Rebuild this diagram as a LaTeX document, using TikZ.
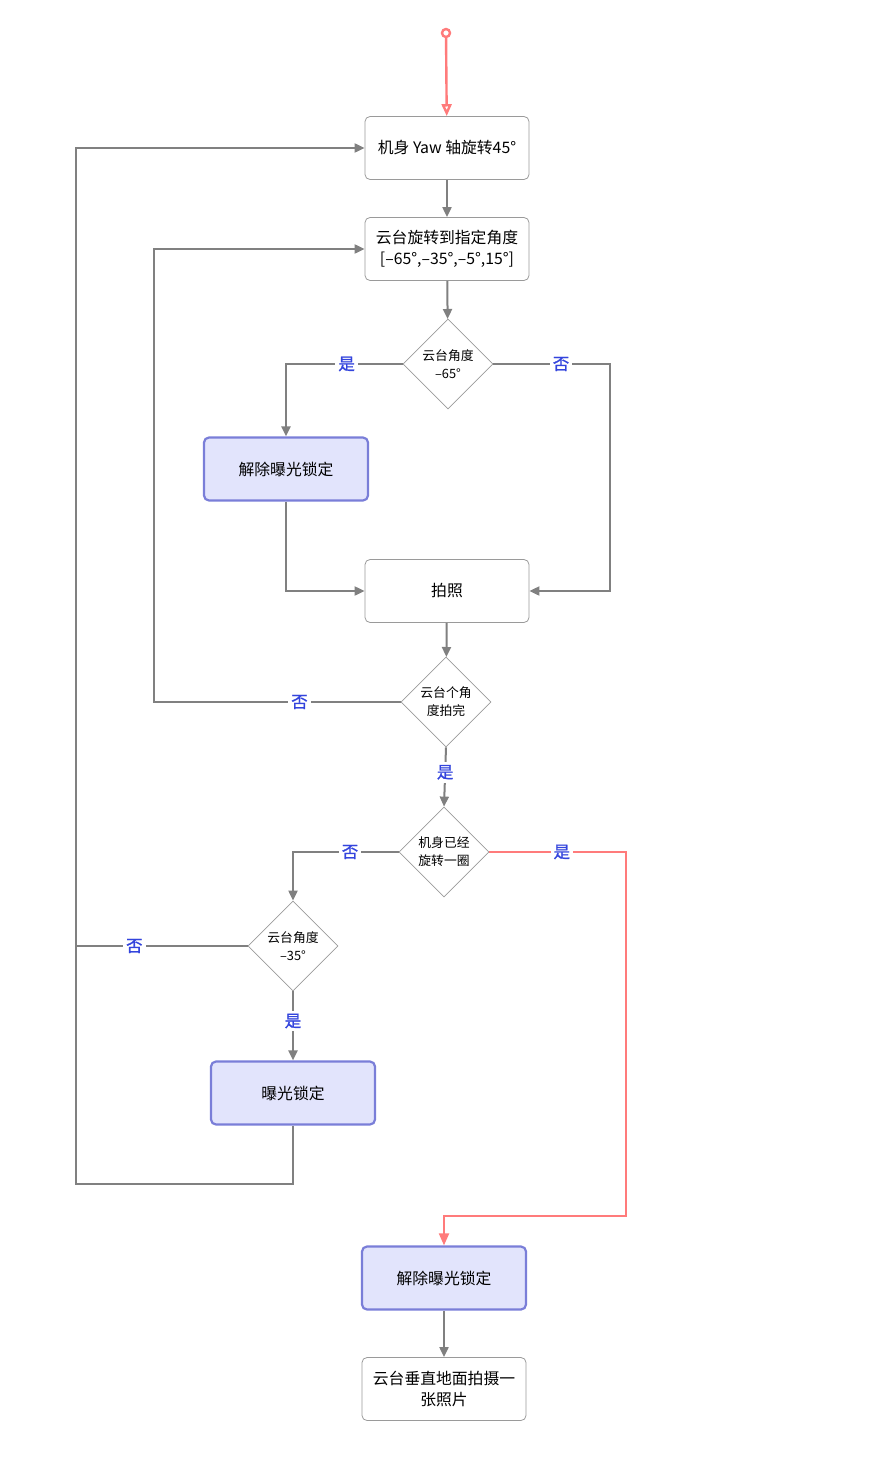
\documentclass[tikz,border=0pt]{standalone}
\usepackage{fontspec}
\setmainfont{Noto Sans CJK SC}
\newfontfamily\lblfont{Noto Sans CJK SC}[FakeBold=1.2]
\usetikzlibrary{positioning,shapes.geometric,arrows.meta}
\definecolor{linegray}{HTML}{808080}
\definecolor{boxgray}{HTML}{9A9A9A}
\definecolor{lockfill}{HTML}{E2E4FC}
\definecolor{lockdraw}{HTML}{7A7ED8}
\definecolor{lblblue}{HTML}{3344DD}
\definecolor{startred}{HTML}{FF7B7B}

\begin{document}
\begin{tikzpicture}[x=1pt,y=-1pt,->,>={Triangle[width=9pt,length=10pt]},
	box/.style={draw=boxgray,line width=0.8pt,rounded corners=5pt,minimum width=164pt,minimum height=63pt,align=center,font=\fontsize{15.8}{21}\selectfont},
	lock/.style={box,fill=lockfill,draw=lockdraw,line width=2.2pt},
	check/.style={diamond,draw=boxgray,line width=0.8pt,aspect=1,minimum width=90pt,minimum height=90pt,inner sep=0pt,align=center,font=\fontsize{12.8}{18}\selectfont},
	lbl/.style={fill=white,text=lblblue,inner sep=3pt,font=\lblfont\fontsize{16.5}{16.5}\selectfont},
	flow/.style={draw=linegray,line width=2pt},
	redflow/.style={draw=startred,line width=2pt,>={Triangle[width=10pt,length=12pt]}}]
	\useasboundingbox (0,0) rectangle (891,1482);
	\node[circle,draw=startred,line width=2.4pt,minimum size=8pt,inner sep=0pt] (start) at (446,33) {};
	\node[box] (yaw) at (447,148) {机身 Yaw 轴旋转45°};
	\node[box] (gimbal) at (447,249) {云台旋转到指定角度\\{}[–65°,–35°,–5°,15°]};
	\node[check] (is65) at (448,364) {云台角度\\–65°};
	\node[lock] (unlockA) at (286,469) {解除曝光锁定};
	\node[box] (shoot) at (447,591) {拍照};
	\node[check] (alldone) at (446,702) {云台个角\\度拍完};
	\node[check] (turned) at (444,852) {机身已经\\旋转一圈};
	\node[check] (is35) at (293,946) {云台角度\\–35°};
	\node[lock] (lockB) at (293,1093) {曝光锁定};
	\node[lock] (unlockC) at (444,1278) {解除曝光锁定};
	\node[box] (nadir) at (444,1389) {云台垂直地面拍摄一\\张照片};
	
	\coordinate (r65) at (610,364);
	\coordinate (l702) at (154,702);
	\coordinate (r852) at (626,852);
	\coordinate (r1216) at (626,1216);
	\coordinate (l946) at (76,946);
	\coordinate (l1184) at (76,1184);
	
	\draw[redflow,line width=2.4pt,-{Triangle[open,width=10pt,length=12pt]}] (start) -- (yaw);
	\draw[flow] (yaw) -- (gimbal);
	\draw[flow] (gimbal) -- (is65);
	\draw[flow] (is65.west) -| node[lbl,pos=0.24] {是} (unlockA.north);
	\draw[flow] (is65.east) -- node[lbl,pos=0.58] {否} (r65) |- (shoot.east);
	\draw[flow] (unlockA.south) |- (shoot.west);
	\draw[flow] (shoot) -- (alldone);
	\draw[flow] (alldone.west) -- node[lbl,pos=0.41] {否} (l702) |- (gimbal.west);
	\draw[flow] (alldone.south) -- node[lbl,pos=0.42] {是} (turned.north);
	\draw[flow] (turned.west) -| node[lbl,pos=0.23] {否} (is35.north);
	\draw[redflow] (turned.east) -- node[lbl,pos=0.53] {是} (r852) -- (r1216) -| (unlockC.north);
	\draw[flow,-] (is35.west) -- node[lbl,pos=0.66] {否} (l946);
	\draw[flow] (is35.south) -- node[lbl,pos=0.43] {是} (lockB.north);
	\draw[flow] (lockB.south) |- (l1184) |- (yaw.west);
	\draw[flow] (unlockC) -- (nadir);
\end{tikzpicture}
\end{document}
